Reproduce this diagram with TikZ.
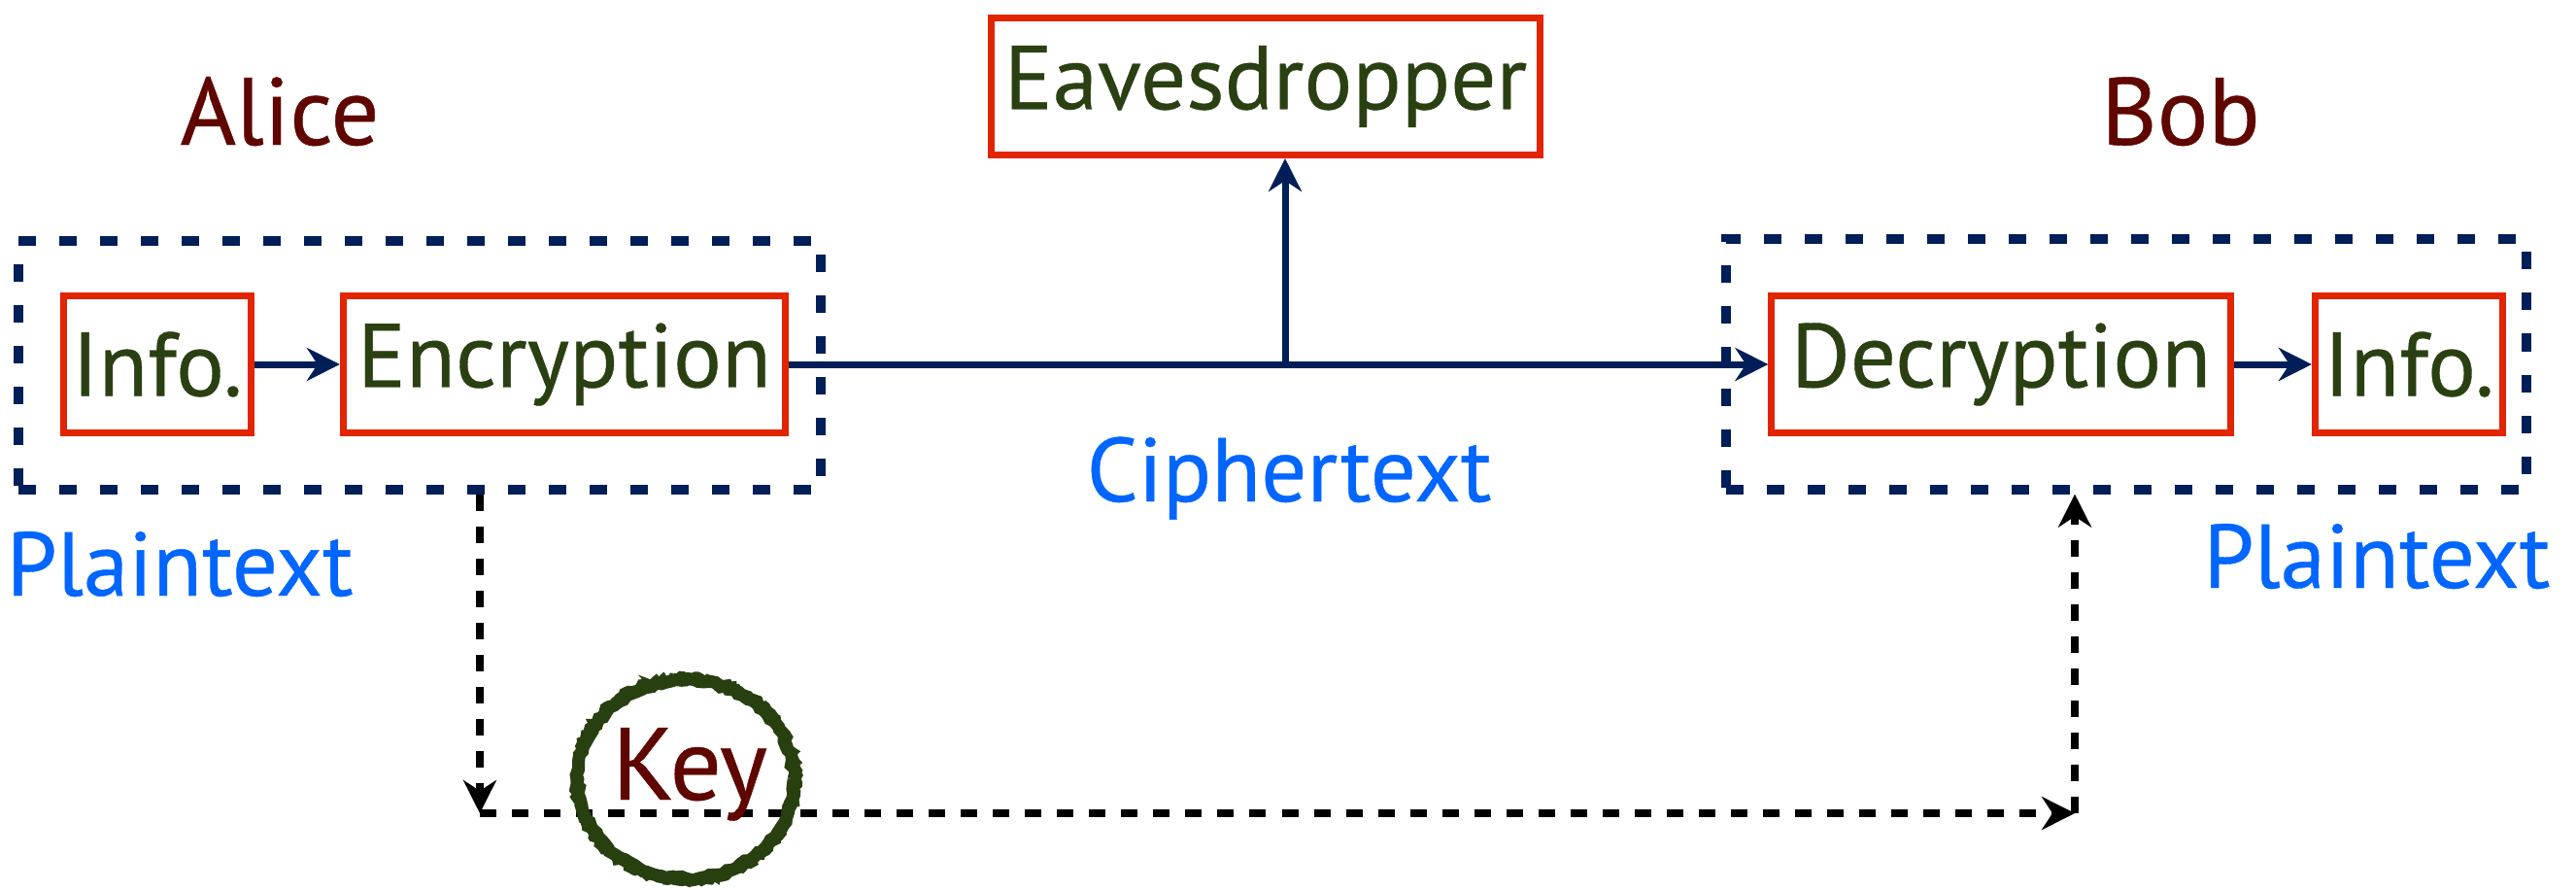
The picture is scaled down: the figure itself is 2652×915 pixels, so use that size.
\documentclass[tikz,border=0pt]{standalone}
\usepackage{fontspec}
\setmainfont{PT Sans}[FakeBold=0.4]
\definecolor{NameColor}{RGB}{96,6,0}
\definecolor{BoxText}{RGB}{42,64,18}
\definecolor{BoxRed}{RGB}{226,36,0}
\definecolor{Navy}{RGB}{0,30,88}
\definecolor{TagBlue}{RGB}{0,102,255}
\definecolor{KeyGreen}{RGB}{40,64,16}
\usetikzlibrary{positioning, arrows.meta, decorations.pathmorphing, calc}

\newcommand{\bigfont}{\fontsize{26.5}{30}\selectfont}

\tikzset{
  blockbox/.style={draw=BoxRed, line width=0.07cm, text=BoxText, minimum height=1.40cm, inner sep=0pt, font=\bigfont},
  partybox/.style={draw=Navy, line width=0.1cm, dash pattern=on 0.18cm off 0.24cm, inner sep=0pt},
  partyname/.style={text=NameColor, font=\fontsize{28}{32}\selectfont, anchor=base, inner sep=0pt},
  tagtext/.style={text=TagBlue, font=\bigfont, inner sep=0pt},
  flow/.style={draw=Navy, line width=0.07cm, -{Stealth[length=3.4mm, width=3.4mm]}},
  keyflow/.style={draw=black, line width=0.08cm, dash pattern=on 0.17cm off 0.16cm, -{Stealth[length=3.4mm, width=3.4mm]}},
}

\begin{document}
\begin{tikzpicture}[x=0.01cm, y=-0.01cm]
  \useasboundingbox (0,0) rectangle (2652,915);

  % sender and receiver groups
  \node[partybox, minimum width=8.26cm, minimum height=2.56cm] (alicebox) at (432,376) {};
  \node[partybox, minimum width=8.24cm, minimum height=2.57cm] (bobbox) at (2189,375) {};
  \node[partyname] (alice) at (288,149) {Alice};
  \node[partyname] (bob) at (2245,149) {Bob};

  % blocks
  \node[blockbox, minimum width=1.93cm] (info1) at (162,375) {Info.};
  \node[blockbox, minimum width=4.55cm] (enc) at (581,375) {Encryption};
  \node[blockbox, minimum width=4.72cm] (dec) at (2060,375) {Decryption};
  \node[blockbox, minimum width=1.93cm] (info2) at (2480,375) {Info.};
  \node[blockbox, minimum width=5.65cm, minimum height=1.41cm] (eve) at (1303,89) {Eavesdropper};

  % message path
  \coordinate (tap) at (1323,375);
  \draw[flow] (info1) -- (enc);
  \draw[flow] (enc) -- (dec);
  \draw[flow] (tap) -- (tap |- eve.south);
  \draw[flow] (dec) -- (info2);

  \node[tagtext, anchor=base] (cipher) at (1327,516) {Ciphertext};
  \node[tagtext, anchor=base west] (plain1) at (6,613) {Plaintext};
  \node[tagtext, anchor=base east] (plain2) at (2626,605) {Plaintext};

  % shared key
  \coordinate (kd) at (494,837);
  \coordinate (kr) at (2136,837);
  \draw[keyflow] (alicebox.south -| kd) -- (kd);
  \draw[keyflow] (kd) -- (kr);
  \draw[keyflow] (kr) -- (kr |- bobbox.south);
  \draw[KeyGreen, line width=0.13cm, decorate, decoration={random steps, segment length=1.5pt, amplitude=0.5pt}] (706,802) ellipse (1.11cm and 1.02cm);
  \draw[KeyGreen, line width=0.05cm, decorate, decoration={random steps, segment length=1pt, amplitude=0.6pt}] (706,802) ellipse (1.16cm and 1.07cm);
  \node[text=NameColor, font=\fontsize{30}{34}\selectfont, anchor=base, inner sep=0pt] (keylbl) at (710,823) {Key};
\end{tikzpicture}
\end{document}
